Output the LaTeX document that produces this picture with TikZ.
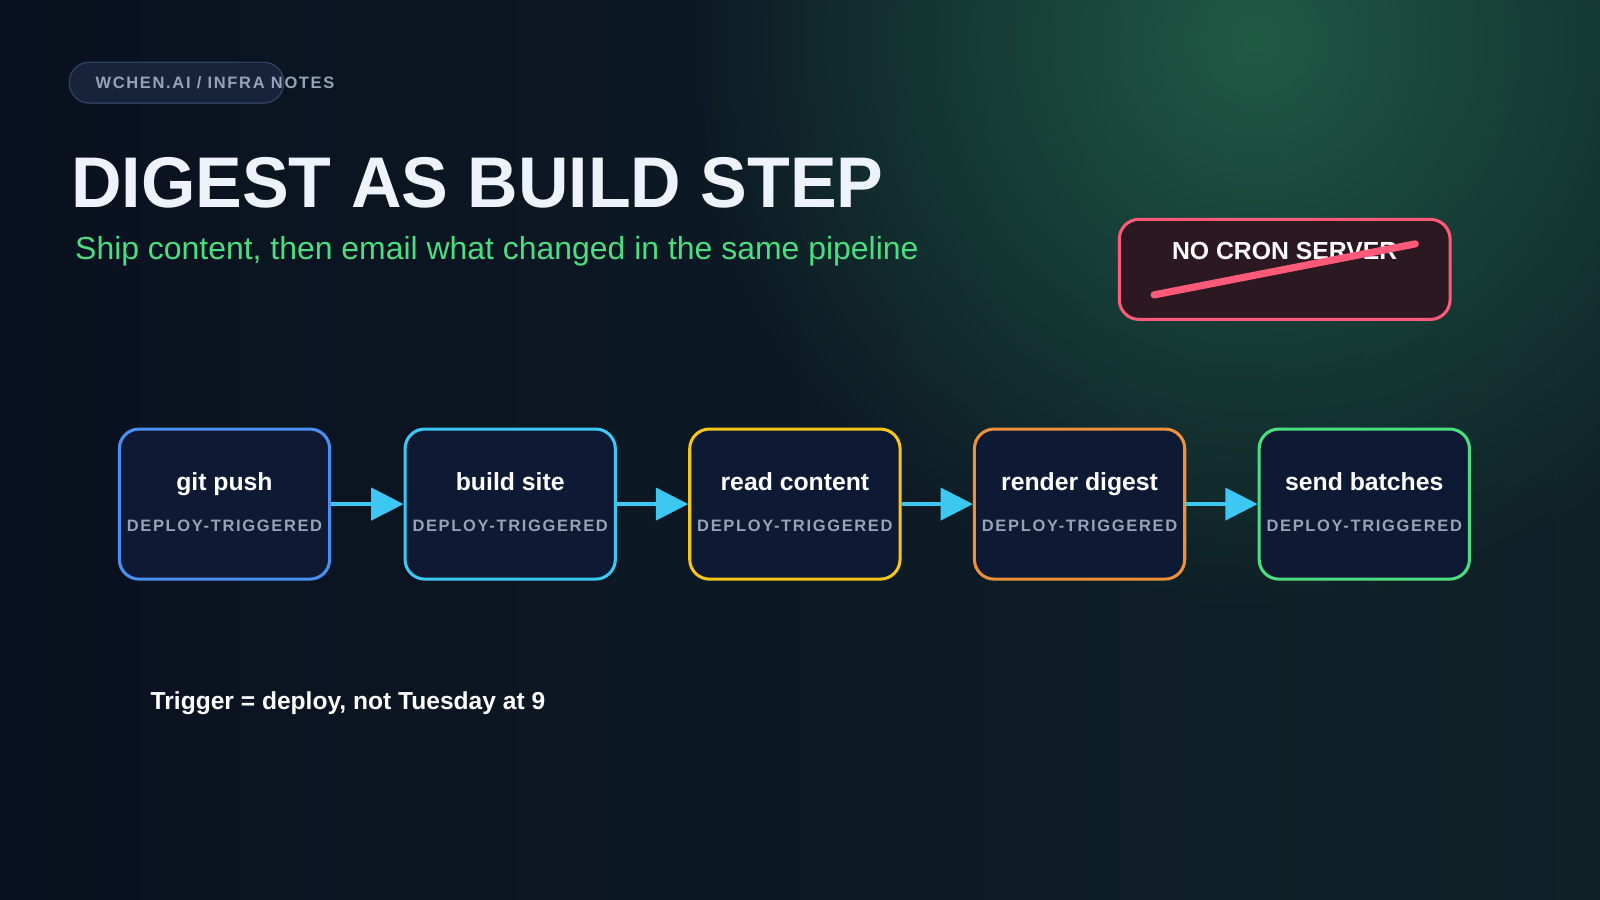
\documentclass[tikz,border=0pt]{standalone}
\usepackage{fontspec}
\setmainfont{Liberation Sans}
\newfontfamily\spaced[LetterSpace=10]{Liberation Sans}
\usetikzlibrary{fadings,arrows.meta}
\tikzfading[name=glowfade, inner color=transparent!0, outer color=transparent!100]
\definecolor{bg}{HTML}{0A1120}
\definecolor{bgr}{HTML}{0F2228}
\definecolor{glow}{HTML}{1F5A45}
\definecolor{boxfill}{HTML}{0E1A33}
\definecolor{pillfill}{HTML}{17233B}
\definecolor{pillline}{HTML}{2E3E5E}
\definecolor{cblue}{HTML}{4A90F0}
\definecolor{ccyan}{HTML}{3CC8F0}
\definecolor{cyellow}{HTML}{F5C518}
\definecolor{corange}{HTML}{F0903A}
\definecolor{cgreen}{HTML}{4ADE80}
\definecolor{pink}{HTML}{FF5A7A}
\definecolor{cronfill}{HTML}{2C1820}
\definecolor{subgray}{HTML}{94A3B8}
\definecolor{titlec}{HTML}{EEF3FB}
\tikzset{
  stepbox/.style={draw, line width=0.85pt, rounded corners=5.5pt, fill=boxfill,
    minimum width=2.06cm, minimum height=1.47cm, inner sep=0pt},
  ttl/.style={anchor=base, inner sep=0, text=white, font=\bfseries\fontsize{6.9}{8}\selectfont},
  sub/.style={anchor=base, inner sep=0, text=subgray, font=\spaced\bfseries\fontsize{4.6}{5}\selectfont},
  flow/.style={draw=ccyan, line width=0.9pt, -{Triangle[length=9pt,width=9pt]}},
}
\begin{document}
\begin{tikzpicture}[x=0.01cm,y=-0.01cm]
\useasboundingbox (0,0) rectangle (1568,882);
\shade[left color=bg, right color=bgr] (0,0) rectangle (1568,882);
\begin{scope}
\clip (0,0) rectangle (1568,882);
\fill[glow, path fading=glowfade] (1230,40) circle (560);
\end{scope}
% pill
\node[draw=pillline, fill=pillfill, rounded corners=5.6pt, line width=0.4pt,
  minimum width=2.1cm, minimum height=0.4cm, inner sep=0] (pill) at (173,81) {};
\node[anchor=west, text=subgray, font=\spaced\bfseries\fontsize{4.6}{5}\selectfont, inner sep=0]
  (pilltxt) at (93,81) {WCHEN.AI / INFRA NOTES};
% title
\node[anchor=base west, text=titlec, font=\bfseries\fontsize{20}{22}\selectfont, inner sep=0]
  (title) at (69,203) {\scalebox{0.975}[1]{DIGEST AS BUILD STEP}};
\node[anchor=base west, text=cgreen, font=\fontsize{8.9}{10}\selectfont, inner sep=0]
  (subtitle) at (73,254) {Ship content, then email what changed in the same pipeline};
% no cron
\node[draw=pink, fill=cronfill, line width=0.85pt, rounded corners=5.5pt,
  minimum width=3.24cm, minimum height=0.98cm, inner sep=0] (cron) at (1259,264) {};
\node[text=white, font=\bfseries\fontsize{6.9}{8}\selectfont, inner sep=0] (crontxt) at (1259,246) {NO CRON SERVER};
\coordinate (s1) at (1131,289);
\coordinate (s2) at (1387,239);
\draw[pink, line width=2pt, line cap=round] (s1) -- (s2);
% steps
\foreach \n/\x/\c/\t in {a/220/cblue/git push, b/500/ccyan/build site, c/779/cyellow/read content,
  d/1058/corange/render digest, e/1337/cgreen/send batches}{
  \node[stepbox, draw=\c] (\n) at (\x,494) {};
  \node[ttl] (\n t) at (\x,481) {\t};
  \node[sub] (\n s) at (\x,521) {DEPLOY-TRIGGERED};
}
\draw[flow] (a.east) -- (b.west);
\draw[flow] (b.east) -- (c.west);
\draw[flow] (c.east) -- (d.west);
\draw[flow] (d.east) -- (e.west);
\node[anchor=base west, text=white, font=\bfseries\fontsize{6.85}{8}\selectfont, inner sep=0]
  (foot) at (147,695) {Trigger = deploy, not Tuesday at 9};
\end{tikzpicture}
\end{document}
